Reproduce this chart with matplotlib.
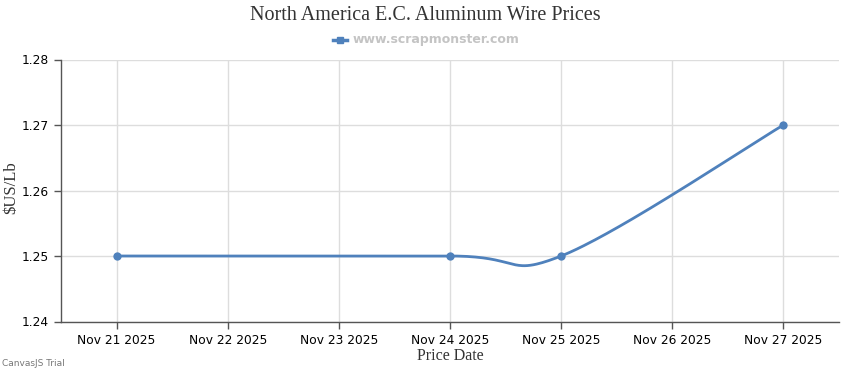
import numpy as np
import matplotlib
matplotlib.use("Agg")
import matplotlib.pyplot as plt

# Data
tick_labels = ["Nov 21 2025", "Nov 22 2025", "Nov 23 2025", "Nov 24 2025",
               "Nov 25 2025", "Nov 26 2025", "Nov 27 2025"]
day_offsets = [0, 3, 4, 6]          # days after Nov 21 2025
prices = [1.25, 1.25, 1.25, 1.27]
y_ticks = [1.24, 1.25, 1.26, 1.27, 1.28]

LINE_COLOR = "#4F81BC"


def spline_curve(xs, ys, tension=2.0, steps=60):
    # cardinal-style bezier through the points, like the web chart's "spline"
    pts = np.column_stack([xs, ys]).astype(float)
    n = len(pts)
    out = [pts[0]]
    for i in range(1, n):
        a = i - 1
        d1 = (pts[min(a + 1, n - 1)] - pts[max(a - 1, 0)]) / tension
        d2 = (pts[min(i + 1, n - 1)] - pts[max(i - 1, 0)]) / tension
        p0, p3 = pts[a], pts[i]
        p1 = p0 + d1 / 3
        p2 = p3 - d2 / 3
        t = np.linspace(0, 1, steps)[1:, None]
        seg = ((1 - t) ** 3) * p0 + 3 * ((1 - t) ** 2) * t * p1 \
            + 3 * (1 - t) * t ** 2 * p2 + t ** 3 * p3
        out.extend(seg)
    out = np.array(out)
    return out[:, 0], out[:, 1]


fig = plt.figure(figsize=(8.5, 3.7), dpi=100)
ax = fig.add_axes([61 / 850, 1 - 321.5 / 370, 778 / 850, 262 / 370])

cx, cy = spline_curve(day_offsets, prices)
ax.plot(cx, cy, color=LINE_COLOR, linewidth=2, solid_capstyle="round", zorder=3)
ax.scatter(day_offsets, prices, s=36, color=LINE_COLOR, zorder=4, linewidths=0)

ax.set_xlim(-0.5, 6.5)
ax.set_ylim(y_ticks[0], y_ticks[-1])
ax.set_xticks(range(len(tick_labels)))
ax.set_xticklabels(tick_labels)
ax.set_yticks(y_ticks)
ax.set_yticklabels([f"{v:.2f}" for v in y_ticks])

ax.grid(True, color="#dddddd", linewidth=1)
ax.set_axisbelow(True)
for side in ["top", "right"]:
    ax.spines[side].set_visible(False)
for side in ["left", "bottom"]:
    ax.spines[side].set_color("#555555")
    ax.spines[side].set_linewidth(1)

ax.tick_params(axis="both", colors="#555555", length=5, width=1,
               labelsize=9, labelcolor="#000000", pad=4)
for lab in ax.get_xticklabels() + ax.get_yticklabels():
    lab.set_family("DejaVu Sans")
    lab.set_fontsize(8.8)

ax.set_xlabel("Price Date", family="Liberation Serif", fontsize=11.5,
              color="#333333", labelpad=1)

fig.text(11 / 850, 1 - 188 / 370, "$US/Lb", rotation=90, ha="center",
         va="center", family="Liberation Serif", fontsize=12, color="#333333")

fig.text(0.5, 1 - 16 / 370, "North America E.C. Aluminum Wire Prices",
         ha="center", va="center", family="Liberation Serif", fontsize=14.5,
         color="#333333")

# legend entry
ly = 1 - 40 / 370
fig.add_artist(plt.Line2D([333 / 850, 340 / 850, 347 / 850], [ly, ly, ly],
                          color=LINE_COLOR, linewidth=2.5, marker="s",
                          markersize=5, markevery=[1],
                          transform=fig.transFigure))
fig.text(353 / 850, ly, "www.scrapmonster.com", ha="left", va="center",
         family="DejaVu Sans", fontsize=9, fontweight="bold", color="#c4c4c4")

fig.text(2 / 850, 1 - 363 / 370, "CanvasJS Trial", ha="left", va="center",
         family="DejaVu Sans", fontsize=6.5, color="#777777")

fig.savefig("out.png", dpi=100)
